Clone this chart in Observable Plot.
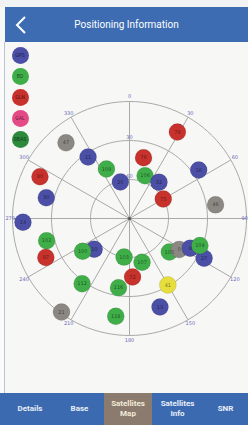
<!DOCTYPE html>
<html><head><meta charset="utf-8">
<script src="https://cdn.jsdelivr.net/npm/d3@7"></script>
<script src="https://cdn.jsdelivr.net/npm/@observablehq/plot@0.6"></script>
<style>
html,body{margin:0;padding:0;width:248px;height:425px;overflow:hidden;background:#f7f7f5;font-family:Roboto,"Open Sans",sans-serif;position:relative;}
#topstrip{position:absolute;left:0;top:0;width:248px;height:7px;background:#f1f2f4}
#header{position:absolute;left:5px;top:7px;width:243px;height:35px;background:#3d6cb2;color:#fff;}
#header .title{position:absolute;left:0;right:0;top:0;height:35px;line-height:35px;text-align:center;font-size:10px;}
#header svg{position:absolute;left:9px;top:9px}
#leftline{position:absolute;left:0;top:42px;width:5px;height:351px;background:#fbfbfc;border-right:1px solid #b9c3d3;box-sizing:border-box}
#chart{position:absolute;left:0;top:42px}
#legend{position:absolute;left:0;top:42px}
.leg{position:absolute;width:17px;height:17px;border-radius:50%;font-size:5px;line-height:17px;text-align:center;color:rgba(0,0,0,0.6);}
#tabs{position:absolute;left:0;top:393px;width:248px;height:32px;background:#3b6ab1;}
.tab{position:absolute;top:0;height:32px;display:flex;align-items:center;justify-content:center;text-align:center;color:#e8eef8;font-weight:bold;font-size:8px;line-height:10px}
.tab.active{background:#8b7b6f;color:#f3ead8}
</style>
</head><body>
<div id="topstrip"></div>
<div id="header"><svg width="14" height="18"><polyline points="11,1 3,9 11,17" fill="none" stroke="#fff" stroke-width="2"/></svg><div class="title">Positioning Information</div></div>
<div id="leftline"></div>
<div id="chart"></div>
<div id="legend"></div>
<div id="tabs"></div>
<script>
// Legend systems
const systems = ["GPS", "BD", "GLN", "GAL", "SBAS"];
const systemColors = ["#4b4fa6", "#3fae49", "#c8322d", "#e44a86", "#2c8a3d"];
const extraSystems = ["QZSS", "Other"];
const extraColors = ["#e6de3c", "#8b8782"];

// Satellites (id, system, azimuth deg, elevation deg)
const satIds =      ["47","11","109","20","76","106","32","75","78","16","46","80","30","14","102","87","10","100","103","107","72","116","112","105","0","8","27","104","41","13","118","21"];
const satSystem =   ["Other","GPS","BD","GPS","GLN","BD","GPS","GLN","GLN","GPS","Other","GLN","GPS","GPS","BD","GLN","GPS","BD","BD","BD","GLN","BD","BD","BD","Other","GPS","GPS","BD","QZSS","GPS","BD","Other"];
const satAzimuth =  [320, 326, 335, 346, 13, 20, 39, 60, 29, 55, 81, 295, 284, 268, 255, 245, 229, 235, 188, 164, 177, 189, 216, 130, 122, 116, 118, 111, 150, 161, 188, 216];
const satElevation =[14, 33, 48, 61, 42, 55, 54, 60, 14, 25, 23, 14, 24, 8, 24, 19, 54, 46, 60, 55, 45, 36, 28, 50, 45, 38, 25, 32, 31, 18, 14, 1];

// Grid
const ringElevations = [0, 30, 60];
const spokeAzimuths = [0, 30, 60, 90, 120, 150, 180, 210, 240, 270, 300, 330];
const azimuthLabels = ["0", "30", "60", "90", "120", "150", "180", "210", "240", "270", "300", "330"];
const elevationLabels = ["30", "60"];

const rad = Math.PI / 180;
const rn = el => (90 - el) / 90;
const px = (az, el) => rn(el) * Math.sin(az * rad);
const py = (az, el) => rn(el) * Math.cos(az * rad);

const allSystems = systems.concat(extraSystems);
const allColors = systemColors.concat(extraColors);

const sats = satIds.map((id, i) => ({id, sys: satSystem[i], x: px(satAzimuth[i], satElevation[i]), y: py(satAzimuth[i], satElevation[i])}));
const ringPts = ringElevations.flatMap(el => d3.range(0, 361, 3).map(a => ({el, x: px(a, el), y: py(a, el)})));
const spokes = spokeAzimuths.map((az, i) => ({label: azimuthLabels[i], x2: px(az, 0), y2: py(az, 0),
  lx: Math.max(-1.02, Math.min(0.985, 1.04 * px(az, 0))), ly: 1.04 * py(az, 0)}));
const elevLbl = elevationLabels.map(l => ({label: l, y: py(0, +l) + 0.03}));
const center = [{x: 0, y: 0}];

const plot = Plot.plot({
  width: 248, height: 351,
  marginLeft: 12, marginRight: 2, marginTop: 59, marginBottom: 58,
  x: {domain: [-1, 1], axis: null},
  y: {domain: [-1, 1], axis: null},
  color: {type: "ordinal", domain: allSystems, range: allColors},
  style: {background: "transparent"},
  marks: [
    Plot.line(ringPts, {x: "x", y: "y", z: "el", stroke: "#a9a9a9", strokeWidth: 1}),
    Plot.link(spokes, {x1: 0, y1: 0, x2: "x2", y2: "y2", stroke: "#a9a9a9", strokeWidth: 1}),
    Plot.text(spokes, {x: "lx", y: "ly", text: "label", fontSize: 5, fill: "#6b6bb8", fontFamily: "DejaVu Sans"}),
    Plot.text(elevLbl, {x: 0, y: "y", text: "label", fontSize: 5, fill: "#6b6bb8", fontFamily: "DejaVu Sans"}),
    Plot.dot(center, {x: "x", y: "y", r: 1.6, fill: "#555"}),
    Plot.dot(sats, {x: "x", y: "y", r: 8.5, fill: "sys", stroke: "rgba(0,0,0,0.12)", strokeWidth: 0.8}),
    Plot.text(sats, {x: "x", y: "y", text: "id", fontSize: 5, fill: "rgba(0,0,0,0.55)", fontFamily: "DejaVu Sans"})
  ]
});
document.getElementById("chart").appendChild(plot);

// Legend
const legend = document.getElementById("legend");
systems.forEach((s, i) => {
  const d = document.createElement("div");
  d.className = "leg";
  d.style.left = (20 - 8.5) + "px";
  d.style.top = (13 - 8.5 + i * 21) + "px";
  d.style.background = systemColors[i];
  d.textContent = s;
  legend.appendChild(d);
});

// Tabs
const tabNames = ["Details", "Base", "Satellites Map", "Satellites Info", "SNR"];
const tabLefts = [5, 55, 104, 152, 203];
const tabWidths = [50, 49, 48, 51, 45];
const tabs = document.getElementById("tabs");
tabNames.forEach((t, i) => {
  const d = document.createElement("div");
  d.className = "tab" + (i === 2 ? " active" : "");
  d.style.left = tabLefts[i] + "px";
  d.style.width = tabWidths[i] + "px";
  d.innerHTML = t.replace(" ", i >= 2 && i <= 3 ? "<br>" : " ");
  tabs.appendChild(d);
});
</script>
</body></html>
